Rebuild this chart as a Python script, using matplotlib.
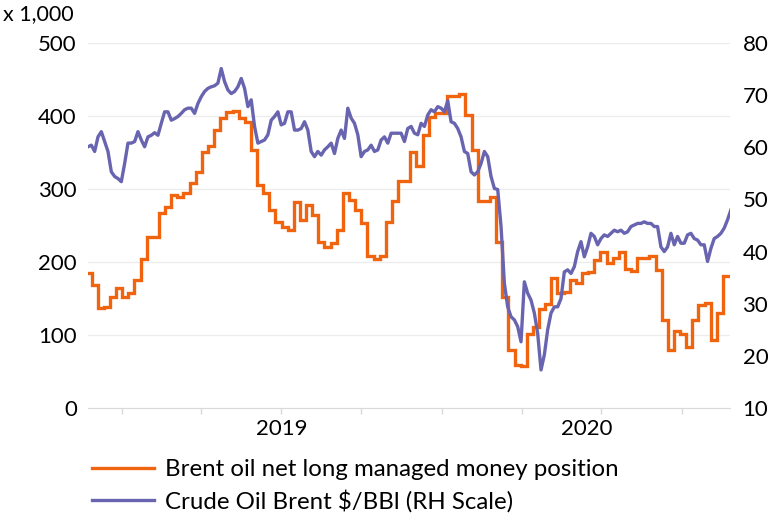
import numpy as np
import pandas as pd
import matplotlib
matplotlib.use("Agg")
import matplotlib.pyplot as plt
import matplotlib.dates as mdates

plt.rcParams['font.family'] = ['Lato', 'DejaVu Sans']

# Brent oil net long managed money position, x 1,000 (weekly, Tuesdays)
cot_start = '2018-11-20'
cot_values = [
    185, 168, 137, 139, 152, 164, 152, 158, 175, 204,
    234, 234, 267, 275, 292, 289, 294, 308, 323, 351,
    359, 381, 397, 405, 407, 397, 392, 353, 305, 294,
    271, 255, 248, 244, 282, 257, 278, 264, 227, 221,
    226, 244, 294, 285, 271, 254, 208, 204, 208, 255,
    283, 311, 311, 351, 331, 374, 399, 404, 404, 427,
    428, 430, 401, 353, 284, 284, 289, 228, 152, 79,
    59, 57, 102, 111, 136, 143, 178, 157, 159, 175,
    171, 185, 186, 203, 214, 198, 205, 214, 191, 188,
    205, 205, 208, 189, 121, 79, 105, 101, 84, 121,
    141, 144, 93, 130, 181, 181,
]

# Crude oil Brent $/bbl (evenly spaced samples)
brent_start = '2018-11-23'
brent_end = '2020-11-26'
brent_values = [
    60.1, 60.4, 59.2, 62.0, 63.0, 61.1, 59.2, 55.3, 54.4, 54.0,
    53.4, 56.9, 60.8, 60.8, 61.1, 63.0, 61.4, 60.1, 62.0, 62.3,
    62.8, 62.3, 64.6, 66.8, 66.8, 65.2, 65.5, 65.9, 66.5, 67.2,
    67.5, 67.5, 66.5, 68.4, 69.7, 70.7, 71.3, 71.6, 71.8, 72.3,
    75.1, 72.6, 71.0, 70.3, 70.7, 71.6, 73.2, 71.3, 67.8,
    69.1, 64.0, 60.8, 61.1, 61.4, 62.4, 65.2, 65.9, 66.8, 64.3,
    64.6, 66.8, 66.8, 63.3, 63.3, 63.6, 64.9, 63.3, 59.2, 58.2,
    59.2, 58.5, 59.5, 60.1, 60.8, 58.8, 61.7, 63.3, 61.7, 67.5,
    65.6, 64.6, 62.4, 58.2, 59.2, 59.5, 60.4, 59.2, 59.5, 61.4,
    62.0, 60.8, 62.7, 62.7, 62.7, 62.7,
    61.1, 63.6, 64.0, 62.7, 62.4, 64.6, 64.0, 66.2, 67.2, 66.8,
    67.8, 67.5, 66.8, 68.9, 64.9, 64.6, 63.6, 62.0, 59.2, 58.8,
    55.3, 54.7, 55.3, 56.9, 59.2, 58.2, 54.4, 52.1, 51.9, 44.8,
    33.9, 29.4, 27.5, 26.9, 25.6, 22.7, 34.2, 32.0, 30.7, 28.2,
    24.3, 17.3, 20.2, 25.0, 28.2, 29.4, 29.4, 31.0,
    36.1, 36.5, 35.8, 37.1, 40.0, 41.9, 39.0, 40.9, 43.5, 42.9,
    41.3, 42.5, 43.2, 42.9, 43.5, 44.1, 43.8, 44.1, 43.5, 43.8,
    44.8, 45.1, 45.4, 45.4, 45.7, 45.4, 45.4, 44.8, 44.8, 40.9,
    40.0, 40.9, 43.5, 41.3, 42.9, 41.6, 41.6, 43.2, 43.5, 42.5,
    42.2, 41.3, 41.3, 38.1, 40.6, 42.5, 42.9, 43.5, 44.5, 46.1,
    48.0,
]

cot_dates = pd.date_range(cot_start, periods=len(cot_values), freq='7D')
brent_dates = pd.date_range(brent_start, brent_end, periods=len(brent_values))

year_labels = ['2019', '2020']
year_label_dates = pd.to_datetime(['2019-07-02', '2020-06-14'])
quarter_ticks = pd.date_range('2019-01-01', '2020-10-01', freq='QS')

c_orange = '#F0640F'
c_blue = '#6864B0'
c_axis = '#d9d9d9'

fig = plt.figure(figsize=(7.7, 5.14), dpi=100)
ax = fig.add_axes([88 / 770, 1 - 408 / 514, 642 / 770, 365 / 514])
ax2 = ax.twinx()

l1, = ax.plot(cot_dates, cot_values, color=c_orange, lw=2.4,
              drawstyle='steps-post', solid_joinstyle='miter')
l2, = ax2.plot(brent_dates, brent_values, color=c_blue, lw=2.4)

ax.set_xlim(pd.Timestamp('2018-11-23'), pd.Timestamp('2020-11-25'))
ax.set_ylim(0, 500)
ax2.set_ylim(10, 80)
ax.set_yticks(np.arange(0, 501, 100))
ax2.set_yticks(np.arange(10, 81, 10))

ax.set_xticks(year_label_dates)
ax.set_xticklabels(year_labels)
ax.set_xticks(quarter_ticks, minor=True)
ax.tick_params(axis='x', which='major', length=0, pad=8, labelsize=16)
ax.tick_params(axis='x', which='minor', length=4, color=c_axis, width=1)
ax.tick_params(axis='y', length=0, pad=8, labelsize=16)
ax2.tick_params(axis='y', length=0, pad=9, labelsize=16)

ax.grid(axis='y', color='#ececec', lw=0.9)
ax.set_axisbelow(True)
for a in (ax, ax2):
    for s in ('top', 'left', 'right'):
        a.spines[s].set_visible(False)
    a.spines['bottom'].set_color(c_axis)
ax2.spines['bottom'].set_visible(False)

fig.text(3 / 770, 1 - 14 / 514, 'x 1,000', fontsize=15.5, va='center', ha='left')

fig.legend([l1, l2],
           ['Brent oil net long managed money position',
            'Crude Oil Brent $/BBl (RH Scale)'],
           loc='center left', bbox_to_anchor=(92 / 770, 1 - 486 / 514),
           frameon=False, fontsize=17.3, handlelength=2.6, handletextpad=0.45,
           labelspacing=0.38, borderpad=0, borderaxespad=0)

fig.savefig('out.png', dpi=100)
